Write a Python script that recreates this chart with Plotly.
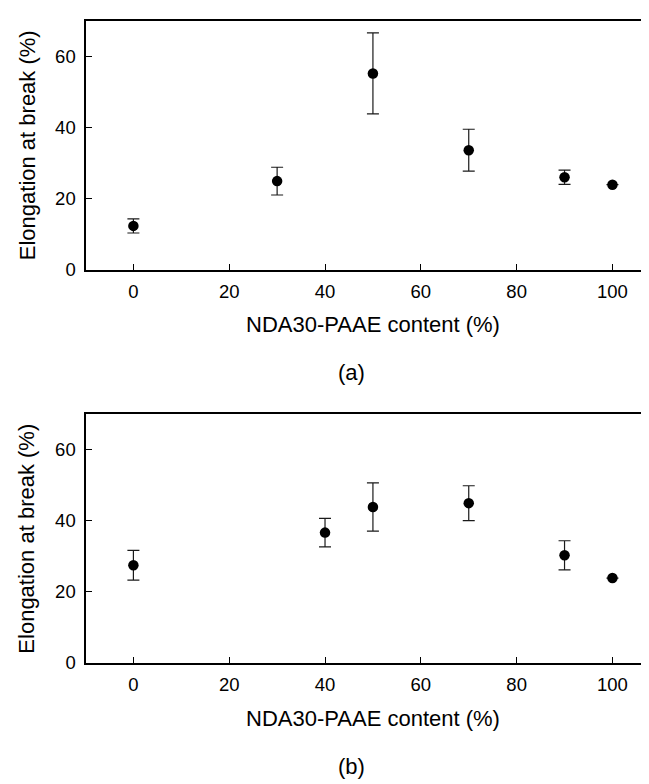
import plotly.graph_objects as go

# ---- data ----
content_a = [0, 30, 50, 70, 90, 100]
elong_a = [12.3, 24.9, 55.2, 33.6, 26.0, 23.9]
err_a = [2.0, 3.9, 11.4, 5.9, 2.0, None]

content_b = [0, 40, 50, 70, 90, 100]
elong_b = [27.5, 36.7, 43.9, 45.0, 30.3, 23.9]
err_b = [4.2, 4.0, 6.8, 4.9, 4.1, None]

x_ticks = [0, 20, 40, 60, 80, 100]
y_ticks = [0, 20, 40, 60]
x_title = "NDA30-PAAE content (%)"
y_title = "Elongation at break (%)"
panel_labels = ["(a)", "(b)"]

W, H = 649, 784
FONT = "Liberation Sans, Arial, sans-serif"

fig = go.Figure()

marker = dict(color="black", size=10.5, symbol="circle")
def err(vals):
    return dict(type="data", array=vals, visible=True, color="#1a1a1a",
                thickness=1.2, width=6)

fig.add_trace(go.Scatter(x=content_a, y=elong_a, mode="markers", marker=marker,
                         error_y=err(err_a), xaxis="x", yaxis="y", showlegend=False))
fig.add_trace(go.Scatter(x=content_b, y=elong_b, mode="markers", marker=marker,
                         error_y=err(err_b), xaxis="x2", yaxis="y2", showlegend=False))

def px_x(p):
    return p / W

def px_y(p):
    return 1 - p / H

left = px_x(77.5)
top_dom = [px_y(265), px_y(13)]
bot_dom = [px_y(663.3), px_y(411.7)]

xax = dict(range=[-10, 109.3], tickvals=x_ticks, ticks="inside", ticklen=6, tickwidth=1,
           tickcolor="black", showline=True, linewidth=2.2, linecolor="black", mirror=True,
           showgrid=False, zeroline=False, tickfont=dict(size=18.5, color="black", family=FONT),
           domain=[left, 1.0], ticklabelstandoff=4)
yax = dict(range=[0, 70], tickvals=y_ticks, ticks="inside", ticklen=6, tickwidth=1,
           tickcolor="black", showline=True, linewidth=2.2, linecolor="black", mirror=False,
           showgrid=False, zeroline=False, tickfont=dict(size=18.5, color="black", family=FONT),
           ticklabelstandoff=4)

fig.update_layout(
    width=W, height=H,
    margin=dict(l=0, r=0, t=0, b=0),
    paper_bgcolor="white", plot_bgcolor="white",
    font=dict(family=FONT, color="black"),
    xaxis=dict(**xax, anchor="y"),
    yaxis=dict(**yax, domain=top_dom, anchor="x"),
    xaxis2=dict(**xax, anchor="y2"),
    yaxis2=dict(**yax, domain=bot_dom, anchor="x2"),
)

ann = []
for yc in [px_y(139), px_y(537.5)]:
    ann.append(dict(text=y_title, x=px_x(19), y=yc, xref="paper", yref="paper",
                    textangle=-90, showarrow=False, xanchor="center", yanchor="middle",
                    font=dict(size=22, family=FONT, color="black")))
for yc in [px_y(321), px_y(719.5)]:
    ann.append(dict(text=x_title, x=px_x(365), y=yc, xref="paper", yref="paper",
                    showarrow=False, xanchor="center", yanchor="middle",
                    font=dict(size=22, family=FONT, color="black")))
for lab, yc in zip(panel_labels, [px_y(369), px_y(768)]):
    ann.append(dict(text=lab, x=px_x(343), y=yc, xref="paper", yref="paper",
                    showarrow=False, xanchor="center", yanchor="middle",
                    font=dict(size=22, family=FONT, color="black")))
fig.update_layout(annotations=ann)

fig.write_html("out.html")
